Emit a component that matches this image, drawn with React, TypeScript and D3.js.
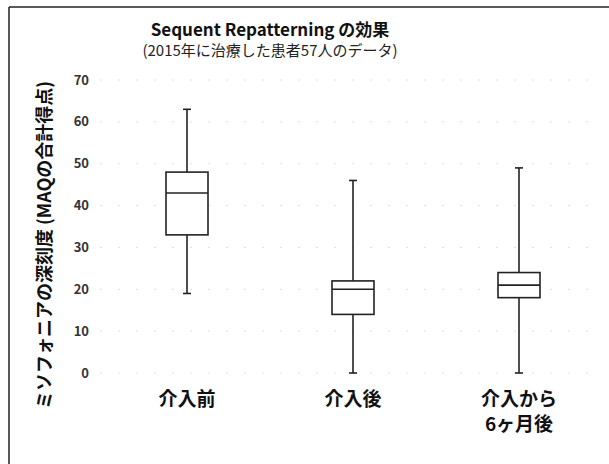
import React from "react";
import * as d3 from "d3";

const categories = ["介入前", "介入後", "介入から\n6ヶ月後"];
const whiskerMin = [19, 0, 0];
const q1 = [33, 14, 18];
const median = [43, 20, 21];
const q3 = [48, 22, 24];
const whiskerMax = [63, 46, 49];
const yTicks = [0, 10, 20, 30, 40, 50, 60, 70];

const W = 609;
const H = 464;
const FONT = "'Noto Sans CJK JP', 'Noto Sans', sans-serif";

export default function App() {
  const x = d3.scaleBand<number>().domain([0, 1, 2]).range([104, 602]);
  const y = d3.scaleLinear().domain([0, 70]).range([373, 80]);
  const boxW = 42;
  const capW = 8;
  const stroke = "#222";

  return (
    <svg
      width={W}
      height={H}
      style={{ position: "absolute", left: 0, top: 0, background: "#fff" }}
      fontFamily={FONT}
    >
      <rect x={0} y={0} width={W} height={H} fill="#fff" />
      {/* frame */}
      <line x1={9} y1={7} x2={W} y2={7} stroke="#222" strokeWidth={1.5} />
      <line x1={9} y1={7} x2={9} y2={H} stroke="#222" strokeWidth={1.5} />

      {/* faint gridlines */}
      {yTicks.map((t) => (
        <line
          key={"g" + t}
          x1={100}
          x2={600}
          y1={y(t)}
          y2={y(t)}
          stroke="#e0e0e0"
          strokeWidth={1}
          strokeDasharray="2 16"
        />
      ))}

      {/* title */}
      <text x={270} y={36} textAnchor="middle" fontSize={17} fontWeight="bold" fill="#111">
        Sequent Repatterning の効果
      </text>
      <text x={270} y={56} textAnchor="middle" fontSize={15} fill="#222">
        (2015年に治療した患者57人のデータ)
      </text>

      {/* y tick labels */}
      {yTicks.map((t) => (
        <text
          key={"t" + t}
          x={89}
          y={y(t)}
          dy="0.35em"
          textAnchor="end"
          fontSize={13}
          fontWeight="bold"
          fill="#333"
        >
          {t}
        </text>
      ))}

      {/* y axis title */}
      <text
        transform={`translate(45, ${245}) rotate(-90)`}
        textAnchor="middle"
        dy="0.35em"
        fontSize={18}
        fontWeight="bold"
        fill="#111"
      >
        ミソフォニアの深刻度 (MAQの合計得点)
      </text>

      {/* boxes */}
      {categories.map((c, i) => {
        const cx = (x(i) as number) + x.bandwidth() / 2;
        return (
          <g key={"b" + i} stroke={stroke} strokeWidth={1.6} fill="none">
            <line x1={cx} x2={cx} y1={y(whiskerMax[i])} y2={y(q3[i])} />
            <line x1={cx} x2={cx} y1={y(q1[i])} y2={y(whiskerMin[i])} />
            <line x1={cx - capW / 2} x2={cx + capW / 2} y1={y(whiskerMax[i])} y2={y(whiskerMax[i])} />
            <line x1={cx - capW / 2} x2={cx + capW / 2} y1={y(whiskerMin[i])} y2={y(whiskerMin[i])} />
            <rect x={cx - boxW / 2} y={y(q3[i])} width={boxW} height={y(q1[i]) - y(q3[i])} fill="#fff" />
            <line x1={cx - boxW / 2} x2={cx + boxW / 2} y1={y(median[i])} y2={y(median[i])} />
          </g>
        );
      })}

      {/* category labels */}
      {categories.map((c, i) => {
        const cx = (x(i) as number) + x.bandwidth() / 2;
        const lines = c.split("\n");
        return lines.map((l, j) => (
          <text
            key={"c" + i + "-" + j}
            x={cx}
            y={406 + j * 25}
            textAnchor="middle"
            fontSize={19}
            fontWeight="bold"
            fill="#111"
          >
            {l}
          </text>
        ));
      })}
    </svg>
  );
}
